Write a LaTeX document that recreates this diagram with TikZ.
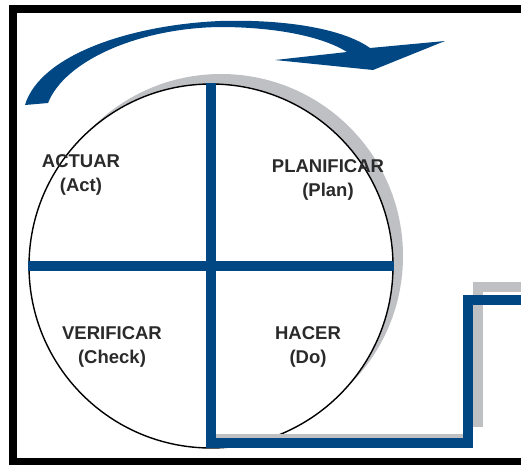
\documentclass[tikz,border=0pt]{standalone}
\usepackage{fontspec}
\setmainfont{Liberation Sans}
\definecolor{pdcablue}{RGB}{0,71,131}
\definecolor{shadowgray}{RGB}{190,192,196}
\definecolor{labelgray}{RGB}{42,42,42}
\begin{document}
\begin{tikzpicture}[x=1pt,y=-1pt,
  phase/.style={align=center, text=labelgray, inner sep=0pt,
    font=\bfseries\fontsize{18.5}{24}\selectfont},
  bar/.style={draw=pdcablue, line width=10pt, line join=miter},
  shade/.style={draw=shadowgray, line join=miter}]
\useasboundingbox (0,0) rectangle (521,464);
\clip (0,0) rectangle (521,464);

% outer frame (open on the right)
\draw[line width=8pt] (13,9) rectangle (600,462);

% cycle wheel with its offset shadow
\fill[shadowgray] (221,256) circle[radius=182];
\node[circle, draw, fill=white, line width=1.4pt, minimum size=364pt,
      inner sep=0pt] (wheel) at (211,266) {};

% step path and its shadow
\coordinate (stepL) at (211,443);
\coordinate (stepR) at (468,443);
\coordinate (stepT) at (468,300);
\coordinate (exitB) at (540,300);
\coordinate (shA) at (213,436.5);
\coordinate (shB) at (463,436.5);
\coordinate (shC) at (478,427);
\coordinate (shD) at (478,287);
\coordinate (shE) at (540,287);
\draw[shade, line width=5pt] (shA) -- (shB);
\draw[shade, line width=10pt] (shC) -- (shD) -- (shE);

% quadrant bars
\draw[bar] (wheel.west) -- (wheel.east);
\draw[bar] (wheel.north) -- (stepL) -- (stepR) -- (stepT) -- (exitB);

% curved rotation arrow
\fill[pdcablue] (25,105) .. controls (40,55) and (130,25) .. (220,21)
  .. controls (290,19) and (345,30) .. (370,48)
  -- (445,41) -- (373,70) -- (275,60) -- (347,52)
  .. controls (320,35) and (270,27) .. (220,27)
  .. controls (140,28) and (65,60) .. (48,103) -- cycle;

% phase labels
\node[phase] (act)   at (81,174.5)  {ACTUAR\\(Act)};
\node[phase] (plan)  at (328,180)   {PLANIFICAR\\(Plan)};
\node[phase] (check) at (112,346.5) {VERIFICAR\\(Check)};
\node[phase] (do)    at (308,346.5) {HACER\\(Do)};
\end{tikzpicture}
\end{document}
